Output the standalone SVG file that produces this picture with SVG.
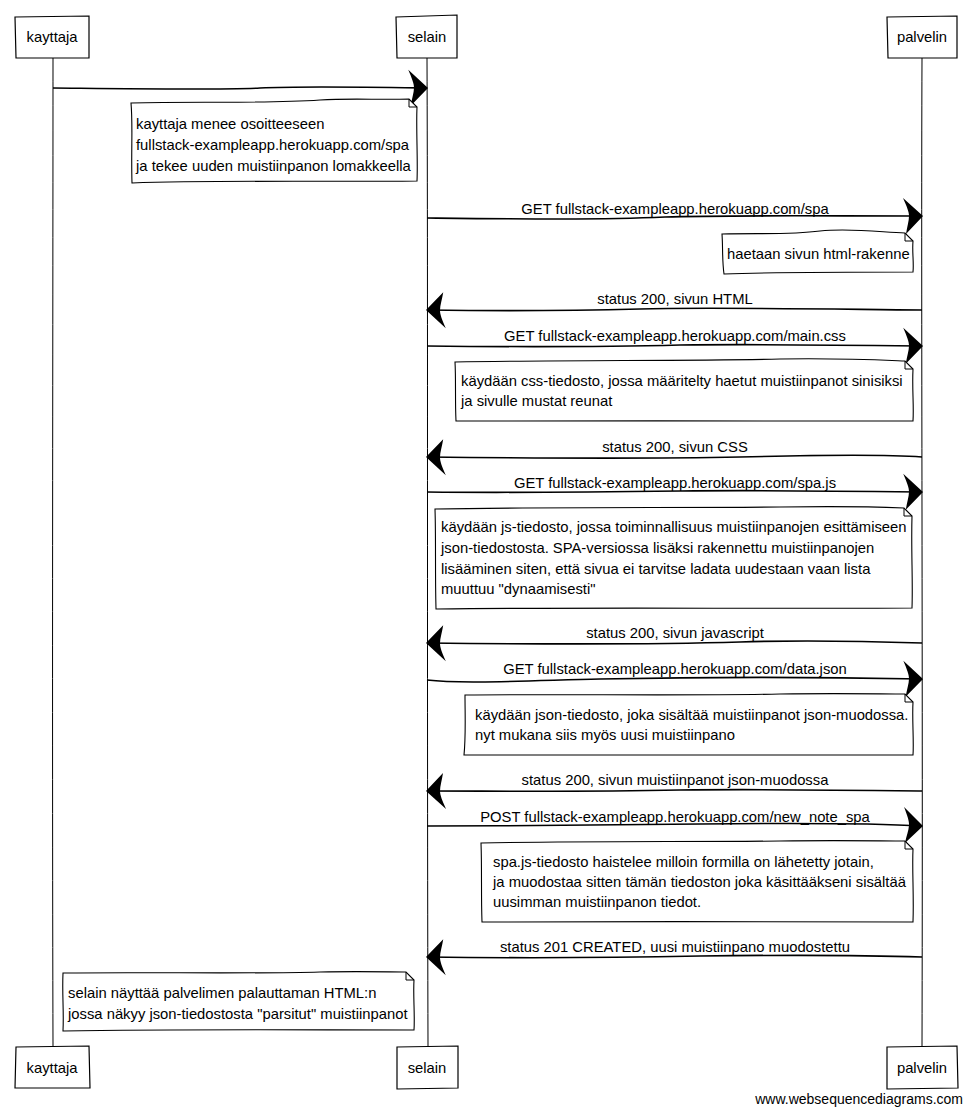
<svg xmlns="http://www.w3.org/2000/svg" width="972" height="1113" viewBox="0 0 972 1113">
<style>
text{font-family:"Liberation Sans",Arial,sans-serif;font-size:14.8px;fill:#000}
.box{fill:#fff;stroke:#000;stroke-width:1.2}
.life{fill:none;stroke:#000;stroke-width:1}
.msg{fill:none;stroke:#000;stroke-width:1.6}
.note{fill:#fff;stroke:#000;stroke-width:1.1}
.fold{fill:none;stroke:#000;stroke-width:1}
.c{text-anchor:middle}
.wm{font-size:14px;text-anchor:end}
</style>
<defs>
<marker id="ah" viewBox="-22 -20 24 40" refX="0" refY="0" markerWidth="24" markerHeight="40" markerUnits="userSpaceOnUse" orient="auto">
<path d="M1,0 L-19,-18 C-15,-9 -13,-4 -13,0 C-13,5 -15,11 -16,18 Z" fill="#000"/>
</marker>
</defs>
<rect width="972" height="1113" fill="#fff"/>
<g id="lifelines">
<path class="life" d="M53,58 C53,300 52,700 53,1046"/>
<path class="life" d="M427,58 C428,300 427,700 428,1046"/>
<path class="life" d="M922,58 C921,300 923,700 922,1046"/>
</g>
<g id="actor-kayttaja-top"><path class="box" d="M15,17 L89,16 L89,58 L16,58 Z"/><text class="c" x="52" y="42">kayttaja</text></g>
<g id="actor-selain-top"><path class="box" d="M396,17 L457,15 L457,58 L397,58 Z"/><text class="c" x="427" y="42">selain</text></g>
<g id="actor-palvelin-top"><path class="box" d="M887,17 L957,16 L957,58 L888,58 Z"/><text class="c" x="922" y="42">palvelin</text></g>
<g id="actor-kayttaja-bottom"><path class="box" d="M16,1047 L89,1046 L90,1088 L15,1088 Z"/><text class="c" x="52" y="1073">kayttaja</text></g>
<g id="actor-selain-bottom"><path class="box" d="M397,1047 L458,1046 L458,1088 L397,1089 Z"/><text class="c" x="427" y="1073">selain</text></g>
<g id="actor-palvelin-bottom"><path class="box" d="M887,1047 L957,1046 L958,1088 L887,1089 Z"/><text class="c" x="922" y="1073">palvelin</text></g>
<g id="connectors">
<path class="msg" marker-end="url(#ah)" d="M53,88 C150,89 220,90 260,88 C300,86 360,87 427,88"/>
<path class="msg" marker-end="url(#ah)" d="M427,218 C520,219 600,220 665,217 C720,215 820,216 922,216"/>
<text class="c" x="675" y="214">GET fullstack-exampleapp.herokuapp.com/spa</text>
<path class="msg" marker-end="url(#ah)" d="M922,310 C820,309 700,307 640,309 C560,311 500,311 427,310"/>
<text class="c" x="675" y="304">status 200, sivun HTML</text>
<path class="msg" marker-end="url(#ah)" d="M427,346 C520,347 600,347 680,345 C760,344 840,345 922,346"/>
<text class="c" x="675" y="341">GET fullstack-exampleapp.herokuapp.com/main.css</text>
<path class="msg" marker-end="url(#ah)" d="M922,457 C880,454 820,455 740,457 C640,459 520,458 427,457"/>
<text class="c" x="675" y="452">status 200, sivun CSS</text>
<path class="msg" marker-end="url(#ah)" d="M427,492 C520,493 600,492 680,491 C760,490 840,491 922,492"/>
<text class="c" x="675" y="488">GET fullstack-exampleapp.herokuapp.com/spa.js</text>
<path class="msg" marker-end="url(#ah)" d="M922,643 C860,641 800,640 740,642 C640,645 520,644 427,643"/>
<text class="c" x="675" y="638">status 200, sivun javascript</text>
<path class="msg" marker-end="url(#ah)" d="M427,680 C460,684 520,681 600,679 C700,677 820,677 922,679"/>
<text class="c" x="675" y="674">GET fullstack-exampleapp.herokuapp.com/data.json</text>
<path class="msg" marker-end="url(#ah)" d="M922,791 C840,790 760,789 680,790 C580,792 500,791 427,791"/>
<text class="c" x="675" y="785">status 200, sivun muistiinpanot json-muodossa</text>
<path class="msg" marker-end="url(#ah)" d="M427,826 C520,826 620,825 700,824 C800,823 870,823 922,826"/>
<text class="c" x="675" y="822">POST fullstack-exampleapp.herokuapp.com/new_note_spa</text>
<path class="msg" marker-end="url(#ah)" d="M922,957 C860,955 780,955 700,956 C600,958 500,958 427,957"/>
<text class="c" x="675" y="952">status 201 CREATED, uusi muistiinpano muodostettu</text>
</g>
<g id="note-1">
<path class="note" d="M131,103 C200,101 260,104 320,100 C350,98 380,100 409,99 L417,107 C416,130 418,160 417,181 C330,182 220,180 132,183 C131,150 133,125 131,103 Z"/>
<path class="fold" d="M409,99 L409,107 L417,107"/>
<text x="136" y="129">kayttaja menee osoitteeseen</text>
<text x="136" y="150">fullstack-exampleapp.herokuapp.com/spa</text>
<text x="136" y="171">ja tekee uuden muistiinpanon lomakkeella</text>
</g>
<g id="note-2">
<path class="note" d="M722,234 C760,233 790,235 820,231 C850,228 880,232 905,233 L913,241 C912,252 914,262 913,272 C850,272 780,272 724,274 C722,260 723,248 722,234 Z"/>
<path class="fold" d="M905,233 L905,241 L913,241"/>
<text x="727" y="259">haetaan sivun html-rakenne</text>
</g>
<g id="note-3">
<path class="note" d="M455,362 C560,360 700,361 780,359 C840,358 880,360 905,361 L913,369 C912,390 914,405 913,421 C780,422 600,420 456,421 C455,400 456,380 455,362 Z"/>
<path class="fold" d="M905,361 L905,369 L913,369"/>
<text x="461" y="386">käydään css-tiedosto, jossa määritelty haetut muistiinpanot sinisiksi</text>
<text x="461" y="406">ja sivulle mustat reunat</text>
</g>
<g id="note-4">
<path class="note" d="M435,509 C540,507 700,508 780,507 C840,506 880,507 904,508 L912,516 C911,550 913,580 912,608 C760,609 600,607 436,609 C435,570 436,540 435,509 Z"/>
<path class="fold" d="M904,508 L904,516 L912,516"/>
<text x="441" y="532">käydään js-tiedosto, jossa toiminnallisuus muistiinpanojen esittämiseen</text>
<text x="441" y="553">json-tiedostosta. SPA-versiossa lisäksi rakennettu muistiinpanojen</text>
<text x="441" y="574">lisääminen siten, että sivua ei tarvitse ladata uudestaan vaan lista</text>
<text x="441" y="594">muuttuu "dynaamisesti"</text>
</g>
<g id="note-5">
<path class="note" d="M465,695 C560,694 700,696 780,694 C840,693 880,694 905,694 L913,702 C912,720 914,740 913,755 C780,756 600,754 464,755 C466,735 465,715 465,695 Z"/>
<path class="fold" d="M905,694 L905,702 L913,702"/>
<text x="475" y="720">käydään json-tiedosto, joka sisältää muistiinpanot json-muodossa.</text>
<text x="475" y="740">nyt mukana siis myös uusi muistiinpano</text>
</g>
<g id="note-6">
<path class="note" d="M481,843 C580,841 700,842 780,841 C840,840 880,841 905,841 L913,849 C912,870 914,895 913,922 C780,922 620,921 482,922 C481,895 482,870 481,843 Z"/>
<path class="fold" d="M905,841 L905,849 L913,849"/>
<text x="493" y="867">spa.js-tiedosto haistelee milloin formilla on lähetetty jotain,</text>
<text x="493" y="887">ja muodostaa sitten tämän tiedoston joka käsittääkseni sisältää</text>
<text x="493" y="907">uusimman muistiinpanon tiedot.</text>
</g>
<g id="note-7">
<path class="note" d="M63,973 C150,972 250,974 320,972 C360,971 390,972 406,972 L414,980 C413,995 415,1015 414,1030 C300,1030 180,1029 63,1031 C64,1010 62,995 63,973 Z"/>
<path class="fold" d="M406,972 L406,980 L414,980"/>
<text x="68" y="998">selain näyttää palvelimen palauttaman HTML:n</text>
<text x="68" y="1019">jossa näkyy json-tiedostosta "parsitut" muistiinpanot</text>
</g>
<text class="wm" x="963" y="1104">www.websequencediagrams.com</text>
</svg>
